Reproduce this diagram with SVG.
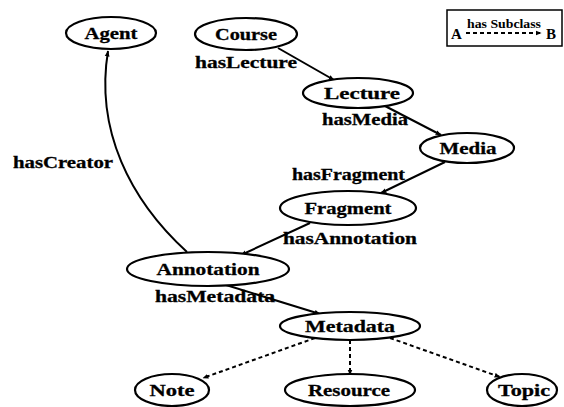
<svg xmlns="http://www.w3.org/2000/svg" width="564" height="407" viewBox="0 0 564 407">
  <style>
    .node ellipse { fill: #ffffff; stroke: #000000; stroke-width: 2.2; }
    .node text, .lbl { font-family: "Liberation Serif", "Times New Roman", serif; font-weight: bold; font-size: 17px; fill: #000000; stroke: #000000; stroke-width: 0.3; }
    .node text { text-anchor: middle; }
    .edge { fill: none; stroke: #000000; stroke-width: 2; }
    .dashed { stroke-dasharray: 4 3; }
    .legend { font-family: "Liberation Serif", "Times New Roman", serif; font-weight: bold; fill: #000000; }
  </style>
  <defs>
    <marker id="arrow" viewBox="0 0 10 10" refX="9" refY="5" markerWidth="6" markerHeight="6" orient="auto" markerUnits="userSpaceOnUse">
      <path d="M0,1 L10,5 L0,9 z" fill="#000000"/>
    </marker>
  </defs>
  <rect width="564" height="407" fill="#ffffff"/>

  <!-- connectors -->
  <g id="connectors">
    <line class="edge" x1="278" y1="48" x2="334" y2="80" marker-end="url(#arrow)"/>
    <line class="edge" x1="385" y1="106" x2="441" y2="135" marker-end="url(#arrow)"/>
    <line class="edge" x1="445" y1="162" x2="381" y2="193" marker-end="url(#arrow)"/>
    <line class="edge" x1="310" y1="223" x2="241" y2="255" marker-end="url(#arrow)"/>
    <path class="edge" d="M187,252 C130,200 95,130 108,51" marker-end="url(#arrow)"/>
    <line class="edge" x1="226" y1="285" x2="320" y2="314" marker-end="url(#arrow)"/>
    <line class="edge dashed" x1="315" y1="338" x2="203" y2="378" marker-end="url(#arrow)"/>
    <line class="edge dashed" x1="350" y1="340" x2="350" y2="375" marker-end="url(#arrow)"/>
    <line class="edge dashed" x1="390" y1="338" x2="500" y2="377" marker-end="url(#arrow)"/>
    <text class="lbl" x="195" y="68" textLength="102" lengthAdjust="spacingAndGlyphs">hasLecture</text>
    <text class="lbl" x="322" y="125" textLength="86" lengthAdjust="spacingAndGlyphs">hasMedia</text>
    <text class="lbl" x="292" y="180" textLength="113" lengthAdjust="spacingAndGlyphs">hasFragment</text>
    <text class="lbl" x="283" y="244" textLength="134" lengthAdjust="spacingAndGlyphs">hasAnnotation</text>
    <text class="lbl" x="13" y="168" textLength="100" lengthAdjust="spacingAndGlyphs">hasCreator</text>
    <text class="lbl" x="155" y="302" textLength="120" lengthAdjust="spacingAndGlyphs">hasMetadata</text>
  </g>

  <!-- nodes -->
  <g id="agent" class="node"><ellipse cx="111" cy="33" rx="45" ry="16"/><text x="111" y="39" textLength="53" lengthAdjust="spacingAndGlyphs">Agent</text></g>
  <g id="course" class="node"><ellipse cx="246" cy="34" rx="51" ry="16"/><text x="246" y="40" textLength="62" lengthAdjust="spacingAndGlyphs">Course</text></g>
  <g id="lecture" class="node"><ellipse cx="358" cy="93" rx="55" ry="15"/><text x="362" y="99" textLength="76" lengthAdjust="spacingAndGlyphs">Lecture</text></g>
  <g id="media" class="node"><ellipse cx="467" cy="148" rx="47" ry="15"/><text x="468" y="154" textLength="57" lengthAdjust="spacingAndGlyphs">Media</text></g>
  <g id="fragment" class="node"><ellipse cx="348" cy="208" rx="68" ry="17"/><text x="348" y="214" textLength="87" lengthAdjust="spacingAndGlyphs">Fragment</text></g>
  <g id="annotation" class="node"><ellipse cx="208" cy="269" rx="81" ry="17"/><text x="208" y="275" textLength="103" lengthAdjust="spacingAndGlyphs">Annotation</text></g>
  <g id="metadata" class="node"><ellipse cx="350" cy="326" rx="70" ry="14"/><text x="350" y="332" textLength="90" lengthAdjust="spacingAndGlyphs">Metadata</text></g>
  <g id="note" class="node"><ellipse cx="172" cy="390" rx="37" ry="16"/><text x="172" y="396" textLength="45" lengthAdjust="spacingAndGlyphs">Note</text></g>
  <g id="resource" class="node"><ellipse cx="350" cy="390" rx="65" ry="16"/><text x="349" y="396" textLength="82" lengthAdjust="spacingAndGlyphs">Resource</text></g>
  <g id="topic" class="node"><ellipse cx="522" cy="390" rx="35" ry="16"/><text x="524" y="396" textLength="52" lengthAdjust="spacingAndGlyphs">Topic</text></g>

  <!-- legend -->
  <g id="legend">
    <rect x="447" y="10" width="115" height="36" fill="#ffffff" stroke="#000000" stroke-width="1.5"/>
    <text class="legend" x="451" y="39" font-size="15">A</text>
    <text class="legend" x="546" y="39" font-size="15">B</text>
    <text class="legend" x="467" y="28" font-size="12" textLength="74" lengthAdjust="spacingAndGlyphs">has Subclass</text>
    <line class="edge dashed" x1="466" y1="33" x2="541" y2="33" stroke-width="1.5" marker-end="url(#arrow)"/>
  </g>
</svg>
